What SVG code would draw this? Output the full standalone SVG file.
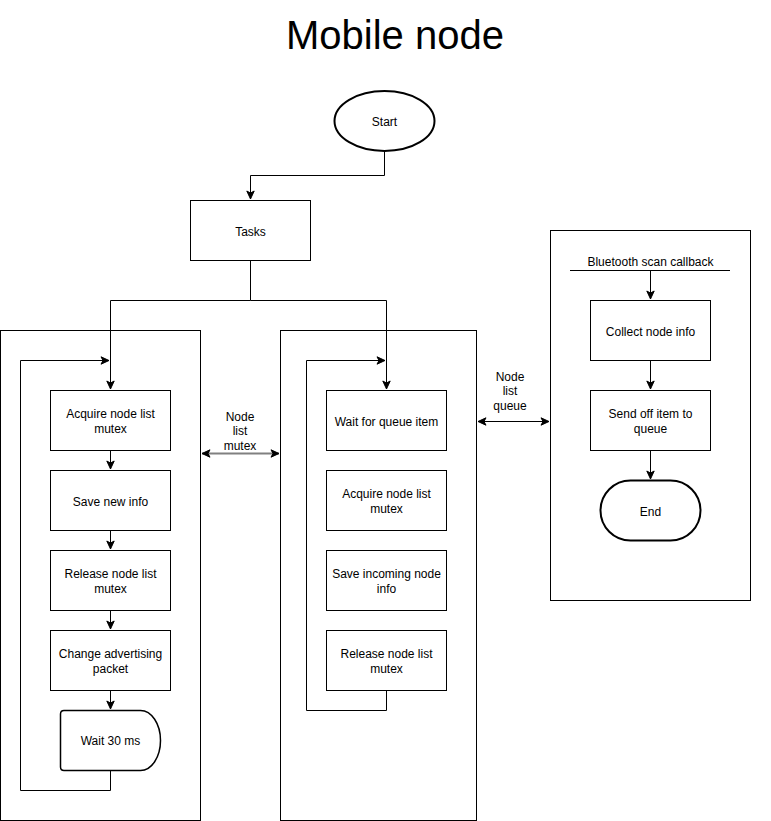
<svg xmlns="http://www.w3.org/2000/svg" width="771" height="821" viewBox="0 0 771 821">
<style>
.b{fill:#fff;stroke:#000;stroke-width:1}
.c{fill:none;stroke:#000;stroke-width:1}
.t{font-family:"Liberation Sans",Arial,sans-serif;font-size:12px;fill:#000;text-anchor:middle}
.title{font-family:"Liberation Sans",Arial,sans-serif;font-size:40px;fill:#000;text-anchor:middle}
</style>
<defs>
<marker id="a" markerUnits="userSpaceOnUse" markerWidth="10" markerHeight="10" viewBox="0 0 10 10" refX="9" refY="5" orient="auto">
<path d="M1,1.3 L9,5 L1,8.7 L3,5 Z" fill="#000" stroke="#000" stroke-width="1"/>
</marker>
<marker id="as" markerUnits="userSpaceOnUse" markerWidth="10" markerHeight="10" viewBox="0 0 10 10" refX="9" refY="5" orient="auto-start-reverse">
<path d="M1,1.3 L9,5 L1,8.7 L3,5 Z" fill="#000" stroke="#000" stroke-width="1"/>
</marker>
<marker id="ag" markerUnits="userSpaceOnUse" markerWidth="10" markerHeight="10" viewBox="0 0 10 10" refX="9" refY="5" orient="auto-start-reverse">
<path d="M1,1.3 L9,5 L1,8.7 L3,5 Z" fill="#000" stroke="#000" stroke-width="1"/>
</marker>
</defs>
<rect width="771" height="821" fill="#fff"/>
<text class="title" x="395" y="49">Mobile node</text>

<g id="containers">
<rect id="left-task" class="b" x="0.5" y="330.5" width="200" height="490"/>
<rect id="middle-task" class="b" x="280.5" y="330.5" width="196" height="490"/>
<rect id="right-task" class="b" x="550.5" y="230.5" width="200" height="370"/>
</g>

<g id="connectors">
<path class="c" d="M384.5,151 V175.5 H250.5 V199" marker-end="url(#a)"/>
<path class="c" d="M250.5,260 V300.5 H110.5 V389" marker-end="url(#a)"/>
<path class="c" d="M250.5,300.5 H386.5 V389" marker-end="url(#a)"/>
<path class="c" d="M110.5,450 V469" marker-end="url(#a)"/>
<path class="c" d="M110.5,530 V549" marker-end="url(#a)"/>
<path class="c" d="M110.5,610 V629" marker-end="url(#a)"/>
<path class="c" d="M110.5,690 V709" marker-end="url(#a)"/>
<path class="c" d="M110.5,770 V790.5 H20.5 V360.5 H109" marker-end="url(#a)"/>
<path class="c" d="M386.5,690 V710.5 H306.5 V360.5 H385" marker-end="url(#a)"/>
<path class="c" d="M570,270.5 H730"/>
<path class="c" d="M650.5,270.5 V299" marker-end="url(#a)"/>
<path class="c" d="M650.5,360 V389" marker-end="url(#a)"/>
<path class="c" d="M650.5,450 V479" marker-end="url(#a)"/>
<path d="M202,453.5 H279" fill="none" stroke="#808080" stroke-width="2" marker-start="url(#ag)" marker-end="url(#ag)"/>
<path class="c" d="M478,421.5 H549" marker-start="url(#as)" marker-end="url(#as)"/>
</g>

<g id="start"><ellipse class="b" cx="384.5" cy="121" rx="50" ry="30" stroke-width="2" style="stroke-width:2"/><text class="t" x="384.5" y="125.5">Start</text></g>
<g id="tasks"><rect class="b" x="190.5" y="200.5" width="120" height="60"/><text class="t" x="250.5" y="235.5">Tasks</text></g>

<g id="acquire1"><rect class="b" x="50.5" y="390.5" width="120" height="60"/><text class="t" x="110.5" y="417.5">Acquire node list</text><text class="t" x="110.5" y="432.5">mutex</text></g>
<g id="save-new"><rect class="b" x="50.5" y="470.5" width="120" height="60"/><text class="t" x="110.5" y="505.5">Save new info</text></g>
<g id="release1"><rect class="b" x="50.5" y="550.5" width="120" height="60"/><text class="t" x="110.5" y="577.5">Release node list</text><text class="t" x="110.5" y="592.5">mutex</text></g>
<g id="change-adv"><rect class="b" x="50.5" y="630.5" width="120" height="60"/><text class="t" x="110.5" y="657.5">Change advertising</text><text class="t" x="110.5" y="672.5">packet</text></g>
<g id="wait30"><path class="b" style="stroke-width:1.5" d="M64,710.5 H140.5 A20,30 0 0 1 140.5,770.5 H64 Q60.5,770.5 60.5,767 V714 Q60.5,710.5 64,710.5 Z"/><text class="t" x="110.5" y="745">Wait 30 ms</text></g>

<g id="wait-queue"><rect class="b" x="326.5" y="390.5" width="120" height="60"/><text class="t" x="386.5" y="425.5">Wait for queue item</text></g>
<g id="acquire2"><rect class="b" x="326.5" y="470.5" width="120" height="60"/><text class="t" x="386.5" y="497.5">Acquire node list</text><text class="t" x="386.5" y="512.5">mutex</text></g>
<g id="save-incoming"><rect class="b" x="326.5" y="550.5" width="120" height="60"/><text class="t" x="386.5" y="577.5">Save incoming node</text><text class="t" x="386.5" y="592.5">info</text></g>
<g id="release2"><rect class="b" x="326.5" y="630.5" width="120" height="60"/><text class="t" x="386.5" y="657.5">Release node list</text><text class="t" x="386.5" y="672.5">mutex</text></g>

<g id="bt-callback"><text class="t" x="650.5" y="266">Bluetooth scan callback</text></g>
<g id="collect"><rect class="b" x="590.5" y="300.5" width="120" height="60"/><text class="t" x="650.5" y="335.5">Collect node info</text></g>
<g id="send-off"><rect class="b" x="590.5" y="390.5" width="120" height="60"/><text class="t" x="650.5" y="417.5">Send off item to</text><text class="t" x="650.5" y="432.5">queue</text></g>
<g id="end"><rect class="b" style="stroke-width:2" x="600.5" y="480.5" width="100" height="60" rx="30" ry="30"/><text class="t" x="650.5" y="515.5">End</text></g>

<g id="labels">
<text class="t" x="240" y="421">Node</text><text class="t" x="240" y="435">list</text><text class="t" x="240" y="450">mutex</text>
<text class="t" x="510" y="381">Node</text><text class="t" x="510" y="395">list</text><text class="t" x="510" y="410">queue</text>
</g>
</svg>
